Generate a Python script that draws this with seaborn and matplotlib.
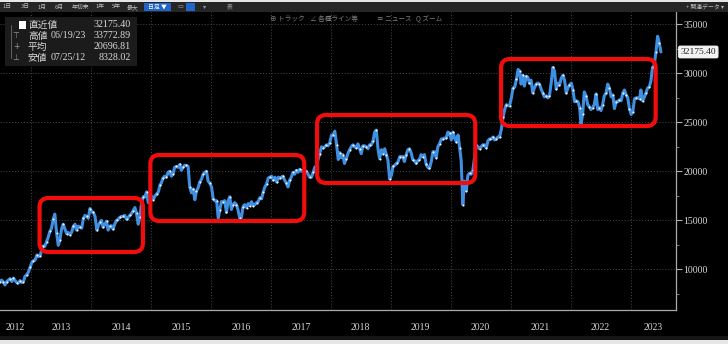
import numpy as np
import pandas as pd
import matplotlib
matplotlib.use("Agg")
import matplotlib.pyplot as plt
import matplotlib.dates as mdates
from matplotlib.patches import FancyBboxPatch, Rectangle
from matplotlib.transforms import IdentityTransform, blended_transform_factory
from matplotlib.ticker import MultipleLocator, FuncFormatter
import seaborn as sns

# ---------------- data (~3 per month) ----------------
v2012 = [8750,
         8900, 8700, 8400, 8750, 8900, 9050, 8750, 9100, 8850,
         8650, 8600, 8850, 8650, 8750, 9300, 9450, 9700, 10200]
v2013 = [10690, 10880, 10930, 11460, 11310, 11400, 11930, 12380, 12340,
         12830, 13280, 13880, 14180, 15100, 15630, 13700, 12450, 13000,
         14100, 14600, 14130, 13650, 13750, 13540, 13800, 14400, 14600,
         14000, 14400, 14300, 14200, 15200, 15500, 15400, 15200, 16200]
v2014 = [15900, 15800, 15400, 14000, 14500, 14800, 15000, 14300, 14600,
         14900, 14000, 14400, 14450, 14100, 14600, 15000, 15100, 15300,
         15400, 15400, 15500, 15100, 15300, 15500, 15700, 16000, 16300,
         15700, 14600, 15300, 16800, 17400, 17400, 17900, 16800, 17800]
v2015 = [17400, 17100, 17500, 17700, 17900, 18600, 18800, 19300, 19500,
         19400, 19900, 20000, 19500, 19700, 20400, 20500, 20400, 20700,
         20100, 20400, 20600, 20600, 20500, 18400, 17800, 18200, 17100,
         18000, 18300, 18900, 19200, 19700, 19900, 20000, 19000, 18800]
v2016 = [18400, 17200, 17000, 17000, 15200, 16100, 16900, 16900, 17000,
         15800, 17000, 17400, 16100, 16600, 16800, 16600, 16000, 15200,
         15300, 16400, 16600, 16300, 16700, 16500, 16900, 16500, 16600,
         16800, 16900, 17300, 17200, 17900, 18400, 18700, 19300, 19400]
v2017 = [19500, 19100, 19400, 18900, 19400, 19300, 19400, 19500, 19100,
         18800, 18400, 19100, 19400, 19900, 19700, 20100, 19900, 20200,
         20000, 20100, 20000, 20000, 19700, 19400, 19400, 19900, 20400,
         20600, 21200, 21800, 22500, 22400, 22500, 22700, 22600, 22900]
v2018 = [23700, 23700, 24100, 22700, 21200, 21900, 21400, 21700, 20800,
         21300, 21800, 22200, 22500, 22700, 22500, 22400, 22800, 22300,
         21800, 22600, 22600, 22500, 22300, 22700, 22700, 23100, 24000,
         24200, 22300, 21300, 22200, 21800, 22300, 21700, 21100, 19200]
v2019 = [19600, 20500, 20600, 20800, 21000, 21500, 21500, 21500, 21000,
         21700, 22200, 22300, 21900, 21200, 21100, 20800, 21100, 21200,
         21700, 21500, 21700, 20700, 20400, 20300, 21000, 22000, 22000,
         21400, 22500, 22800, 23300, 23300, 23400, 23400, 24000, 23900]
v2020 = [23200, 24000, 23400, 23000, 23700, 22400, 21100, 16600, 19000,
         18000, 19600, 19800, 19700, 20100, 21300, 22700, 22500, 22300,
         22500, 22700, 22700, 22400, 23100, 23300, 23300, 23500, 23200,
         23300, 23500, 23500, 24300, 25500, 26300, 26800, 26700, 26700]
v2021 = [27500, 28500, 28600, 29400, 30400, 30200, 28900, 29800, 28700,
         29700, 29600, 29000, 29300, 28000, 28500, 28900, 29000, 28900,
         28400, 28000, 27600, 27700, 27500, 27700, 29100, 30600, 30200,
         28400, 29000, 28800, 29500, 29800, 29300, 28000, 28500, 28800]
v2022 = [29000, 28300, 27100, 27200, 27100, 26500, 24800, 25800, 28100,
         27700, 26800, 26600, 26300, 26500, 26800, 27900, 26300, 26500,
         26200, 26800, 27700, 28000, 28900, 28500, 27600, 27800, 26400,
         27100, 27100, 27300, 27200, 28000, 28300, 27800, 27500, 26400]
v2023 = [25800, 26100, 27400, 27500, 27500, 27400, 28300, 27200, 27500,
         28000, 28500, 28600, 29200, 30600, 30800, 32200, 33772.89, 33100,
         32175.40]

values = v2012 + v2013 + v2014 + v2015 + v2016 + v2017 + v2018 + v2019 + v2020 + v2021 + v2022 + v2023
dates = ([pd.Timestamp(2012, 6, 25)] +
         [pd.Timestamp(y, m, d) for y in range(2012, 2024) for m in range(1, 13) for d in (5, 15, 25)
          if (2012, 7) <= (y, m) <= (2023, 6)] +
         [pd.Timestamp(2023, 7, 5)])
df = pd.DataFrame({"date": dates, "close": values})

years = list(range(2012, 2024))
y_ticks = [10000, 15000, 20000, 25000, 30000, 35000]

# highlighted ranges (red boxes)
box_start = ["2013-02-21", "2014-12-28", "2017-10-09", "2020-11-03"]
box_end = ["2014-11-13", "2017-07-23", "2020-05-30", "2023-06-03"]
box_low = [11765, 14929, 18806, 24622]
box_high = [17276, 21663, 25745, 31459]

legend_names = ["直近値", "高値", "平均", "安値"]
legend_marks = ["", "⊤", "+", "⊥"]
legend_dates = ["", "06/19/23", "", "07/25/12"]
legend_values = ["32175.40", "33772.89", "20696.81", "8328.02"]
last_value = 32175.40

toolbar_buttons = ["1日", "3日", "1月", "6月", "年初来", "1年", "5年", "最大"]
tools = ["⊕ トラック", "∠ 各種ライン等", "≡ ニュース", "Q ズーム"]

# ---------------- figure ----------------
W, H = 728, 344
sns.set_style("dark")
plt.rcParams["font.family"] = ["Liberation Serif", "Noto Sans CJK JP", "DejaVu Sans"]

fig = plt.figure(figsize=(W / 100, H / 100), dpi=100, facecolor="black")


def fx(px):
    return px / W


def fy(py):
    return 1 - py / H


ax = fig.add_axes([0, fy(310), fx(676), fy(12) - fy(310)])
ax.set_facecolor("black")

sns.lineplot(data=df, x="date", y="close", ax=ax, color="#4090e2", linewidth=2.2)
sns.lineplot(data=df, x="date", y="close", ax=ax, color="#4090e2", linewidth=0,
             marker="o", markersize=1.5, markerfacecolor="#eef5ff", markeredgewidth=0,
             markevery=2)

ax.set_xlim(pd.Timestamp("2012-06-25"), pd.Timestamp("2023-10-05"))
ax.set_ylim(5847, 36255)
ax.set_xlabel("")
ax.set_ylabel("")

# axes styling
for s in ["left", "top"]:
    ax.spines[s].set_visible(False)
for s in ["right", "bottom"]:
    ax.spines[s].set_visible(True)
    ax.spines[s].set_color("#a8a8a8")
    ax.spines[s].set_linewidth(0.9)

ax.yaxis.tick_right()
ax.set_yticks(y_ticks)
ax.yaxis.set_major_formatter(FuncFormatter(lambda v, p: f"{int(v)}"))
ax.yaxis.set_minor_locator(MultipleLocator(2500))
ax.tick_params(axis="y", which="major", direction="out", length=4, width=0.8,
               colors="#b0b0b0", labelcolor="#d8d8d8", labelsize=7, pad=1.5)
ax.tick_params(axis="y", which="minor", direction="out", length=2.5, width=0.6, colors="#909090")

ax.xaxis.set_major_locator(mdates.YearLocator())
ax.xaxis.set_minor_locator(mdates.MonthLocator(bymonth=[4, 7, 10]))
ax.xaxis.set_major_formatter(FuncFormatter(lambda v, p: ""))
ax.tick_params(axis="x", which="major", direction="out", length=17.5, width=0.8, colors="#8a8a8a")
ax.tick_params(axis="x", which="minor", direction="inout", length=4, width=0.6, colors="#9a9a9a")

ax.grid(True, which="major", color="#4a4a4a", linestyle=(0, (1, 2)), linewidth=0.7)
ax.set_axisbelow(True)

# year labels centered in visible part of each year
x0, x1 = ax.get_xlim()
tr = blended_transform_factory(ax.transData, ax.transAxes)
for y in years:
    a = max(mdates.date2num(pd.Timestamp(y, 1, 1)), x0)
    b = min(mdates.date2num(pd.Timestamp(y + 1, 1, 1)), x1)
    ax.text((a + b) / 2, -18 / 298, str(y), transform=tr, ha="center", va="center",
            fontsize=7, color="#d8d8d8", clip_on=False)

# latest value tag
tr2 = blended_transform_factory(ax.transAxes, ax.transData)
ax.text(1 + 4.5 / 676, last_value, f"{last_value:.2f}", transform=tr2, ha="left", va="center",
        fontsize=6.8, color="#202020", clip_on=False,
        bbox=dict(boxstyle="round,pad=0.18,rounding_size=0.15", fc="#f2f2f2", ec="#f2f2f2"))

# red boxes (from data coords)
fig.canvas.draw()
for s, e, lo, hi in zip(box_start, box_end, box_low, box_high):
    p0 = ax.transData.transform((mdates.date2num(pd.Timestamp(s)), lo))
    p1 = ax.transData.transform((mdates.date2num(pd.Timestamp(e)), hi))
    patch = FancyBboxPatch((p0[0], p0[1]), p1[0] - p0[0], p1[1] - p0[1],
                           boxstyle="round,pad=0,rounding_size=9",
                           transform=IdentityTransform(), fill=False,
                           ec="#f20d0d", lw=3.0, zorder=5)
    fig.add_artist(patch)

# ---------------- chrome: toolbars, legend panel ----------------
fig.add_artist(Rectangle((0, fy(12)), 1, 10 / H, transform=fig.transFigure,
                         fc="#262626", ec="none", zorder=3))
fig.add_artist(Rectangle((0, fy(2)), 1, 2 / H, transform=fig.transFigure,
                         fc="#e6e6e6", ec="none", zorder=3))
fig.add_artist(Rectangle((0, 0), 1, 4 / H, transform=fig.transFigure,
                         fc="#e6e6e6", ec="none", zorder=3))
fig.add_artist(Rectangle((0, fy(340)), 1, 4 / H, transform=fig.transFigure,
                         fc="#161616", ec="none", zorder=3))

btn_x = [7, 25, 42, 59, 81, 100, 116, 133]
for bx, t in zip(btn_x, toolbar_buttons):
    fig.text(fx(bx), fy(7), t, ha="center", va="center", fontsize=4.2, color="#bdbdbd",
             family=["Noto Sans CJK JP", "DejaVu Sans"], zorder=4)
fig.add_artist(Rectangle((fx(144), fy(11)), fx(27), 8 / H, transform=fig.transFigure,
                         fc="#1f66c8", ec="none", zorder=4))
fig.text(fx(157), fy(7), "日足 ▼", ha="center", va="center", fontsize=4.2, color="white",
         family=["Noto Sans CJK JP", "DejaVu Sans"], zorder=5)
fig.text(fx(180), fy(7), "▭", ha="center", va="center", fontsize=4.5, color="#9a9a9a",
         family=["DejaVu Sans"], zorder=5)
fig.add_artist(Rectangle((fx(186), fy(11)), fx(9), 8 / H, transform=fig.transFigure,
                         fc="#1f66c8", ec="none", zorder=4))
fig.text(fx(205), fy(7), "▾", ha="center", va="center", fontsize=4.5, color="#9a9a9a",
         family=["DejaVu Sans"], zorder=5)
fig.text(fx(230), fy(7), "表", ha="center", va="center", fontsize=4.2, color="#9a9a9a",
         family=["Noto Sans CJK JP", "DejaVu Sans"], zorder=5)
fig.text(fx(724), fy(6.5), "+ 関連データ ▾", ha="right", va="center", fontsize=4.2, color="#bdbdbd",
         family=["Noto Sans CJK JP", "DejaVu Sans"], zorder=5)

tool_x = [270, 310, 377, 416]
for tx, t in zip(tool_x, tools):
    fig.text(fx(tx), fy(19.5), t, ha="left", va="center", fontsize=4.8, color="#7c7c7c",
             family=["Noto Sans CJK JP", "DejaVu Sans"], zorder=5)

# legend panel
fig.add_artist(Rectangle((fx(5), fy(66)), fx(132), 49 / H, transform=fig.transFigure,
                         fc="#1b1b1b", ec="none", zorder=3))
fig.add_artist(plt.Line2D([fx(11), fx(11)], [fy(25), fy(58)], transform=fig.transFigure,
                          color="#6a6a6a", lw=0.6, zorder=4))
fig.add_artist(Rectangle((fx(18.5), fy(28.5)), fx(7), 7 / H, transform=fig.transFigure,
                         fc="white", ec="none", zorder=5))
row_y = [24.7, 35.7, 46.6, 57.6]
for ry, name, mk, dt, val in zip(row_y, legend_names, legend_marks, legend_dates, legend_values):
    if mk:
        fig.text(fx(16), fy(ry), mk, ha="center", va="center", fontsize=5.5, color="#9a9a9a",
                 family=["DejaVu Sans"], zorder=5)
    fig.text(fx(28), fy(ry), name, ha="left", va="center", fontsize=7, color="#d8d8d8",
             family=["Noto Sans CJK JP", "DejaVu Sans"], zorder=5)
    if dt:
        fig.text(fx(51), fy(ry), dt, ha="left", va="center", fontsize=7.2, color="#d8d8d8", zorder=5)
    fig.text(fx(131), fy(ry), val, ha="right", va="center", fontsize=7.2, color="#d8d8d8", zorder=5)

fig.savefig("out.png", dpi=100, facecolor="black")
